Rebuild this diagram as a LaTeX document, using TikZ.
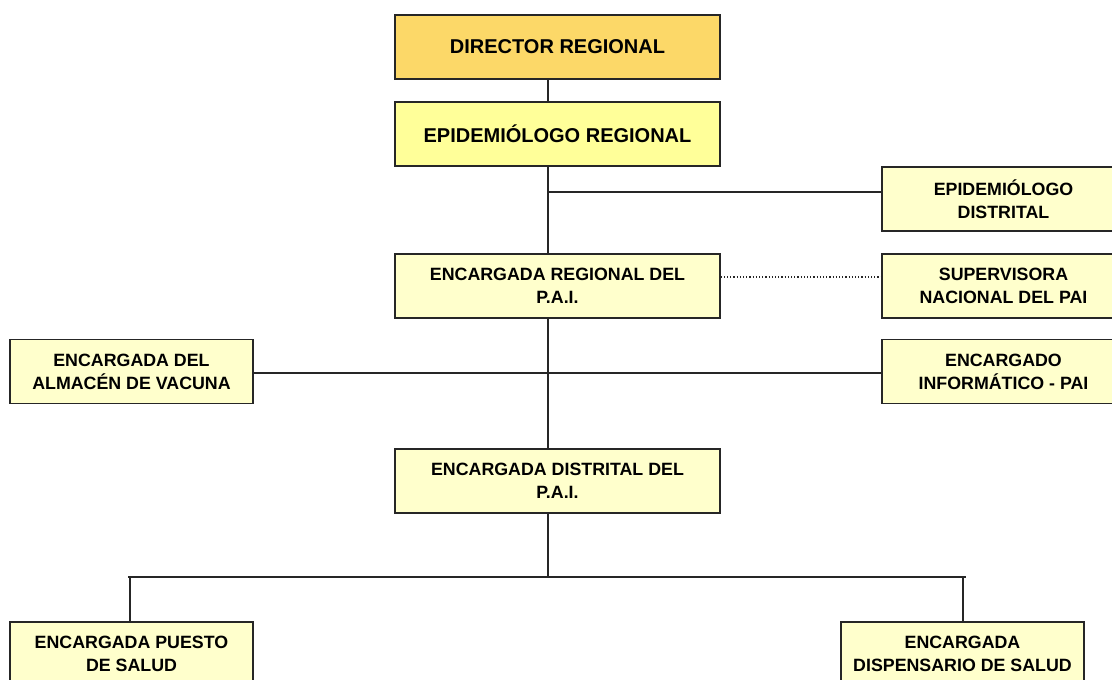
\documentclass[tikz,border=0pt]{standalone}
\usepackage{fontspec}
\setmainfont{Liberation Sans}
\definecolor{dircol}{RGB}{252,216,104}
\definecolor{epicol}{RGB}{255,255,153}
\definecolor{boxcol}{RGB}{255,255,204}
\tikzset{
    unitbox/.style={draw=black!85, line width=1.3pt, fill=boxcol, align=center,
        minimum width=243pt, minimum height=64pt, inner sep=0pt,
        font=\fontsize{17.8}{23}\selectfont\bfseries},
    widebox/.style={unitbox, minimum width=325pt},
    topbox/.style={widebox, font=\fontsize{20}{24}\selectfont\bfseries},
    link/.style={black!85, line width=1.2pt}
}
\begin{document}
\begin{tikzpicture}[x=1pt, y=-1pt] % 1 px of the sheet = 1 pt

        % Working area of the sheet
        \useasboundingbox (0,0) rectangle (1112,680);

        % Central line of the chart
        \coordinate (spine) at (548,0);

        % Main chain
        \node[topbox, fill=dircol] (dir) at (557.5,47) {DIRECTOR REGIONAL};
        \node[topbox, fill=epicol] (epireg) at (557.5,134) {EPIDEMIÓLOGO REGIONAL};
        \node[widebox] (encreg) at (557.5,286) {ENCARGADA REGIONAL DEL\\P.A.I.};
        \node[widebox] (encdist) at (557.5,481) {ENCARGADA DISTRITAL DEL\\P.A.I.};

        % Side units
        \node[unitbox] (epidist) at (1003.5,199) {EPIDEMIÓLOGO\\DISTRITAL};
        \node[unitbox] (superv) at (1003.5,286) {SUPERVISORA\\NACIONAL DEL PAI};
        \node[unitbox] (inform) at (1003.5,371.5) {ENCARGADO\\INFORMÁTICO - PAI};
        \node[unitbox] (almacen) at (131.5,371.5) {ENCARGADA DEL\\ALMACÉN DE VACUNA};

        % Local units
        \node[unitbox] (puesto) at (131.5,654) {ENCARGADA PUESTO\\DE SALUD};
        \node[unitbox] (dispens) at (962.5,654) {ENCARGADA\\DISPENSARIO DE SALUD};

        % Branch points
        \coordinate (jdist) at (548,192);
        \coordinate (jlow) at (548,577);
        \coordinate (lb) at (130,577);
        \coordinate (rb) at (963,577);

        % Connectors
        \draw[link] (dir.south -| spine) -- (epireg.north -| spine);
        \draw[link] (epireg.south -| spine) -- (encreg.north -| spine);
        \draw[link] (jdist) -- (jdist -| epidist.west);
        \draw[link, dotted] ([yshift=9pt]encreg.east) -- ([yshift=9pt]encreg.east -| superv.west);
        \draw[link] (encreg.south -| spine) -- (encdist.north -| spine);
        \draw[link] ([yshift=-1.5pt]almacen.east) -- ([yshift=-1.5pt]almacen.east -| inform.west);
        \draw[link] (encdist.south -| spine) -- (jlow);
        \draw[link] ([xshift=-2pt]lb) -- ([xshift=3pt]rb);
        \draw[link] (lb) -- (lb |- puesto.north);
        \draw[link] (rb) -- (rb |- dispens.north);

    \end{tikzpicture}
\end{document}
